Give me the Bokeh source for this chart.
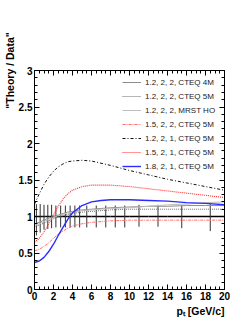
import numpy as np
from bokeh.plotting import figure
from bokeh.models import (LinearAxis, SingleIntervalTicker, CustomJSTickFormatter,
                          Legend, LegendItem, Range1d, Title)
from bokeh.embed import file_html
from bokeh.resources import INLINE

# ---- data ----
pt = [0, 0.5, 1, 1.5, 2, 2.5, 3, 3.5, 4, 5, 6, 7, 8, 10, 12, 14, 16, 18, 20]
r_122_cteq4m = [0.90, 0.92, 0.95, 0.98, 1.00, 1.02, 1.04, 1.06, 1.07, 1.09, 1.10, 1.11, 1.12, 1.13, 1.14, 1.14, 1.15, 1.15, 1.15]
r_122_cteq5m = [0.86, 0.88, 0.91, 0.94, 0.97, 0.99, 1.01, 1.03, 1.04, 1.06, 1.07, 1.08, 1.09, 1.10, 1.10, 1.10, 1.10, 1.10, 1.10]
r_122_mrst = [0.88, 0.90, 0.93, 0.96, 0.99, 1.01, 1.03, 1.05, 1.06, 1.08, 1.09, 1.10, 1.11, 1.12, 1.14, 1.16, 1.17, 1.19, 1.20]
r_152_cteq5m = [0.53, 0.55, 0.59, 0.64, 0.70, 0.76, 0.80, 0.84, 0.87, 0.90, 0.92, 0.93, 0.94, 0.95, 0.95, 0.95, 0.95, 0.95, 0.95]
r_121_cteq5m = [1.17, 1.31, 1.44, 1.54, 1.62, 1.68, 1.72, 1.75, 1.76, 1.77, 1.76, 1.73, 1.70, 1.63, 1.57, 1.51, 1.46, 1.41, 1.36]
r_151_cteq5m = [0.65, 0.70, 0.79, 0.90, 1.02, 1.14, 1.24, 1.31, 1.36, 1.41, 1.43, 1.43, 1.43, 1.41, 1.38, 1.35, 1.32, 1.29, 1.26]
r_181_cteq5m = [0.37, 0.39, 0.44, 0.52, 0.62, 0.74, 0.85, 0.96, 1.05, 1.15, 1.20, 1.22, 1.23, 1.23, 1.22, 1.21, 1.19, 1.18, 1.16]

bin_center = [0.2, 0.6, 1.0, 1.4, 1.8, 2.25, 2.75, 3.25, 3.75, 4.25, 4.75,
              5.5, 6.5, 7.5, 8.5, 9.5, 11, 13, 15.5, 18.5]
bin_halfwidth = [0.2, 0.2, 0.2, 0.2, 0.2, 0.25, 0.25, 0.25, 0.25, 0.25, 0.25,
                 0.5, 0.5, 0.5, 0.5, 0.5, 1, 1, 1.5, 1.5]
data_ratio = [1.0] * 20
err_up = [0.17, 0.17, 0.16, 0.16, 0.16, 0.15, 0.15, 0.15, 0.15, 0.15, 0.15,
          0.15, 0.15, 0.15, 0.15, 0.15, 0.16, 0.16, 0.15, 0.17]
err_dn = [0.26, 0.22, 0.18, 0.17, 0.16, 0.15, 0.15, 0.15, 0.15, 0.15, 0.15,
          0.15, 0.15, 0.15, 0.15, 0.15, 0.14, 0.14, 0.16, 0.20]

legend_labels = ["1.2, 2, 2, CTEQ 4M", "1.2, 2, 2, CTEQ 5M", "1.2, 2, 2, MRST HO",
                 "1.5, 2, 2, CTEQ 5M", "1.2, 2, 1, CTEQ 5M", "1.5, 2, 1, CTEQ 5M",
                 "1.8, 2, 1, CTEQ 5M"]
x_title = "p\u209c [GeV/c]"
y_title = '"Theory / Data"'

FONT = "Liberation Sans"

p = figure(frame_width=190, frame_height=219,
           x_range=Range1d(0, 20), y_range=Range1d(0, 3),
           x_axis_type=None, y_axis_type=None,
           output_backend="svg", toolbar_location=None,
           min_border_left=34, min_border_right=9, min_border_top=70, min_border_bottom=30)
p.outline_line_color = None
p.background_fill_color = "white"


def make_axis(ticker_interval, minor, labels, title=None, standoff=0):
    ax = LinearAxis(ticker=SingleIntervalTicker(interval=ticker_interval, num_minor_ticks=minor))
    ax.axis_line_color = "black"
    ax.axis_line_width = 1
    ax.major_tick_in = 5
    ax.major_tick_out = 0
    ax.minor_tick_in = 3
    ax.minor_tick_out = 0
    ax.major_tick_line_color = "black"
    ax.minor_tick_line_color = "black"
    ax.major_label_text_font = FONT
    ax.major_label_text_font_style = "bold"
    ax.major_label_text_font_size = "10px"
    ax.major_label_text_color = "black"
    ax.major_label_standoff = 2
    if labels:
        ax.formatter = CustomJSTickFormatter(code="return String(Math.round(tick*10)/10)")
    else:
        ax.formatter = CustomJSTickFormatter(code="return ''")
        ax.major_label_standoff = 0
    if title is not None:
        ax.axis_label = title
        ax.axis_label_text_font = FONT
        ax.axis_label_text_font_style = "bold"
        ax.axis_label_text_font_size = "10.5px"
        ax.axis_label_text_color = "black"
        ax.axis_label_standoff = standoff
        ax.axis_label_align = "end"
    return ax


p.add_layout(make_axis(2, 4, True), "below")
p.add_layout(make_axis(0.5, 5, True, y_title, 0), "left")
p.add_layout(make_axis(2, 4, False), "above")
p.add_layout(make_axis(0.5, 5, False), "right")

xt = Title(text=x_title, align="right", text_font=FONT, text_font_style="bold",
           text_font_size="10.5px", text_color="black", standoff=0, offset=0)
p.add_layout(xt, "below")

# data points
ctr = np.array(bin_center)
hw = np.array(bin_halfwidth)
yv = np.array(data_ratio)
p.segment(x0=ctr - hw, y0=yv, x1=ctr + hw, y1=yv, line_color="black", line_width=1.6)
p.segment(x0=ctr, y0=yv - np.array(err_dn), x1=ctr, y1=yv + np.array(err_up),
          line_color="#333333", line_width=1)

# theory curves
styles = [
    (r_122_cteq4m, dict(line_color="#8c8c8c", line_width=1)),
    (r_122_cteq5m, dict(line_color="#6e6e6e", line_width=1, line_dash="1 1")),
    (r_122_mrst, dict(line_color="#bdbdbd", line_width=1)),
    (r_152_cteq5m, dict(line_color="#ff6a6a", line_width=1, line_dash="3 1 1 1")),
    (r_121_cteq5m, dict(line_color="#111111", line_width=1, line_dash="3 2 1 2")),
    (r_151_cteq5m, dict(line_color="#ff2a2a", line_width=1.1, line_dash="1 1")),
    (r_181_cteq5m, dict(line_color="#2b2bff", line_width=1.4)),
]
items = []
for (ys, st), lab in zip(styles, legend_labels):
    r = p.line(pt, ys, **st)
    items.append(LegendItem(label=lab, renderers=[r]))

legend = Legend(items=items, location=(88, 116), padding=0, spacing=0, margin=0,
                label_height=14, glyph_height=14, glyph_width=19, label_standoff=4,
                label_text_font=FONT, label_text_font_size="8px", label_text_color="#222222",
                background_fill_alpha=0, border_line_color=None)
p.add_layout(legend, "center")

open("out.html", "w").write(file_html(p, INLINE))
